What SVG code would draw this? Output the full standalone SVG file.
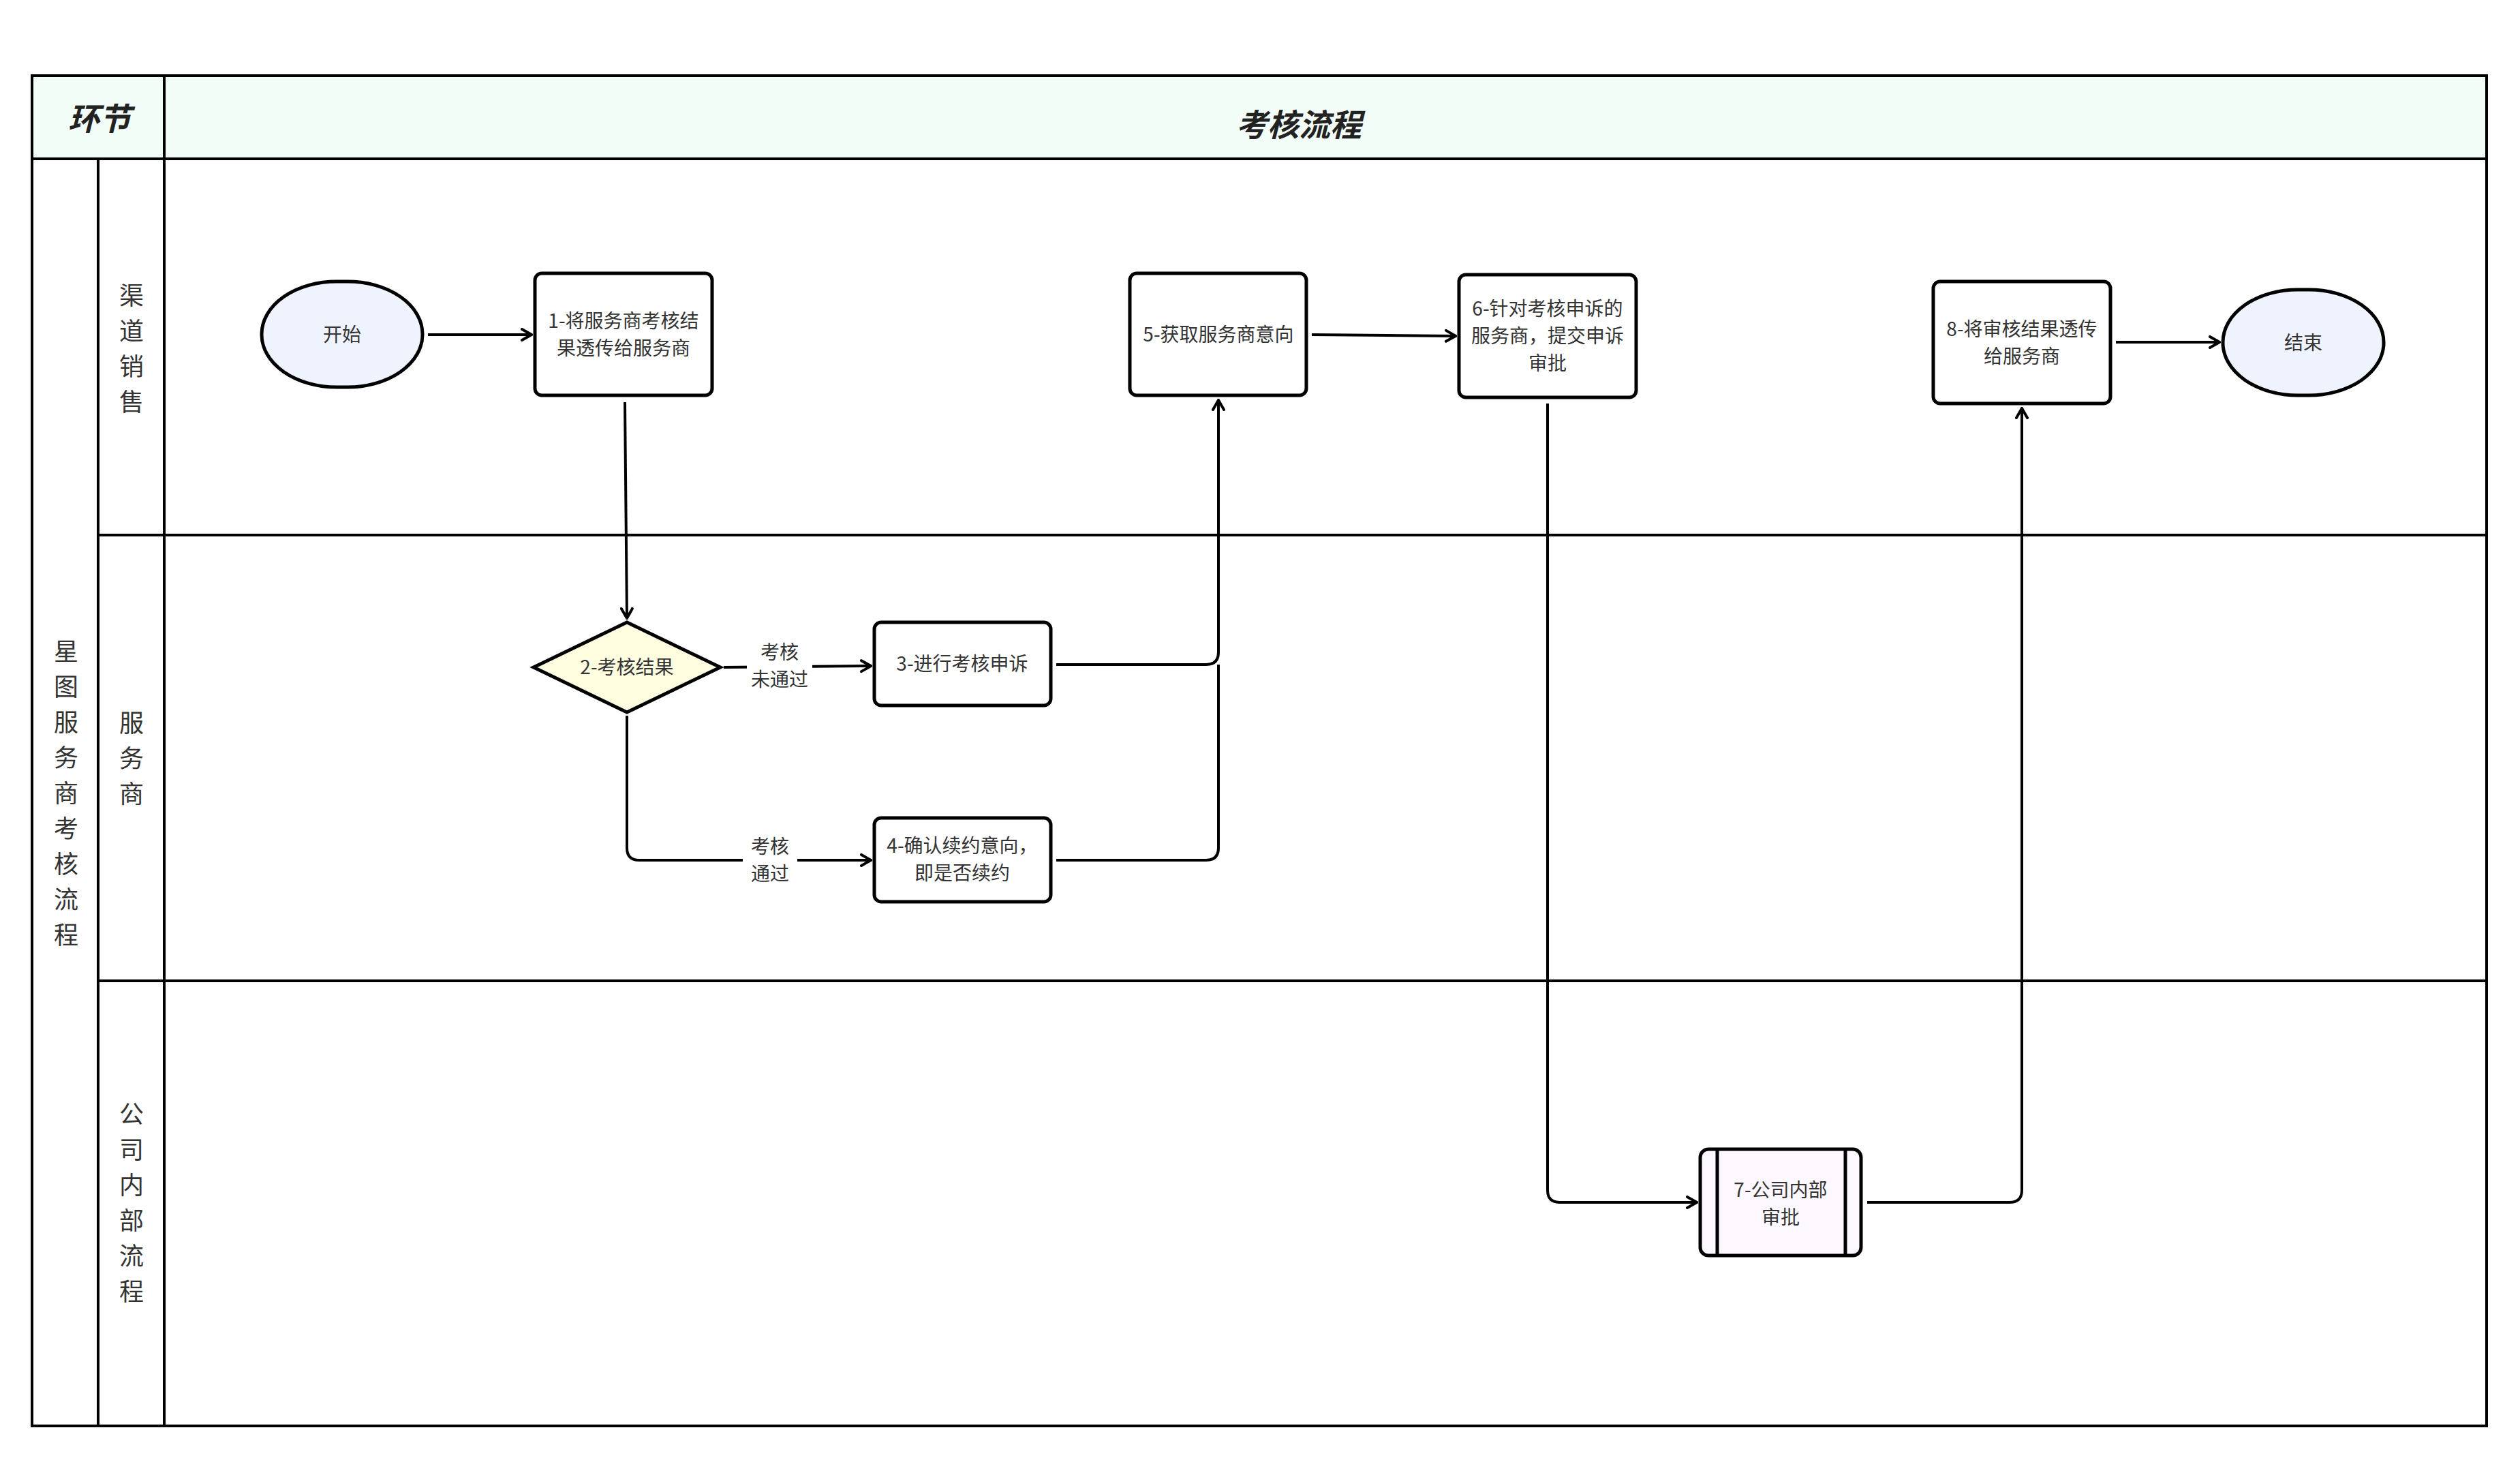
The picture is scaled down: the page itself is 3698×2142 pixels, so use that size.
<svg xmlns="http://www.w3.org/2000/svg" width="3698" height="2142" viewBox="0 0 3698 2142">
<defs>
<style>
.fr{fill:none;stroke:#000;stroke-width:4}
.n{stroke:#000;stroke-width:5}
.t{font-family:"Noto Sans CJK SC","Noto Sans",sans-serif;font-size:28px;fill:#333;text-anchor:middle}
.l{font-family:"Noto Sans CJK SC","Noto Sans",sans-serif;font-size:36px;fill:#333;text-anchor:middle}
.h{font-family:"Noto Sans CJK SC","Noto Sans",sans-serif;font-size:46px;font-weight:bold;font-style:italic;fill:#222;text-anchor:middle}
.c{fill:none;stroke:#000;stroke-width:4}
</style>
<marker id="a" viewBox="0 0 20 20" refX="18" refY="10" markerWidth="20" markerHeight="20" markerUnits="userSpaceOnUse" orient="auto"><path d="M4,2 L18,10 L4,18" fill="none" stroke="#000" stroke-width="4" stroke-linecap="round"/></marker>
</defs>
<rect width="3698" height="2142" fill="#fff"/>
<g id="frame">
<rect x="47" y="111" width="3602" height="122" fill="#f3fdf8"/>
<rect class="fr" x="47" y="111" width="3602" height="1981"/>
<line class="fr" x1="47" y1="233" x2="3649" y2="233"/>
<line class="fr" x1="241" y1="111" x2="241" y2="2092"/>
<line class="fr" x1="144" y1="233" x2="144" y2="2092"/>
<line class="fr" x1="144" y1="785" x2="3649" y2="785"/>
<line class="fr" x1="144" y1="1439" x2="3649" y2="1439"/>
<text class="h" x="146" y="191">环节</text>
<text class="h" x="1906" y="200">考核流程</text>
<text class="l" x="97"><tspan x="97" y="969">星</tspan><tspan x="97" y="1021">图</tspan><tspan x="97" y="1073">服</tspan><tspan x="97" y="1125">务</tspan><tspan x="97" y="1177">商</tspan><tspan x="97" y="1229">考</tspan><tspan x="97" y="1281">核</tspan><tspan x="97" y="1333">流</tspan><tspan x="97" y="1385">程</tspan></text>
<text class="l" x="193"><tspan x="193" y="447">渠</tspan><tspan x="193" y="499">道</tspan><tspan x="193" y="551">销</tspan><tspan x="193" y="603">售</tspan></text>
<text class="l" x="193"><tspan x="193" y="1074">服</tspan><tspan x="193" y="1126">务</tspan><tspan x="193" y="1178">商</tspan></text>
<text class="l" x="193"><tspan x="193" y="1648">公</tspan><tspan x="193" y="1700">司</tspan><tspan x="193" y="1752">内</tspan><tspan x="193" y="1804">部</tspan><tspan x="193" y="1856">流</tspan><tspan x="193" y="1908">程</tspan></text>
</g>
<g id="connectors">
<line class="c" x1="628" y1="491" x2="780" y2="491" marker-end="url(#a)"/>
<line class="c" x1="917" y1="590" x2="920" y2="907" marker-end="url(#a)"/>
<line class="c" x1="1062" y1="979" x2="1278" y2="977" marker-end="url(#a)"/>
<path class="c" d="M1550,975 H1770 Q1788,975 1788,957 V587" marker-end="url(#a)"/>
<path class="c" d="M920,1050 V1244 Q920,1262 938,1262 H1278" marker-end="url(#a)"/>
<path class="c" d="M1550,1262 H1770 Q1788,1262 1788,1244 V975"/>
<line class="c" x1="1925" y1="491" x2="2136" y2="493" marker-end="url(#a)"/>
<path class="c" d="M2271,592 V1746 Q2271,1764 2289,1764 H2490" marker-end="url(#a)"/>
<path class="c" d="M2740,1764 H2949 Q2967,1764 2967,1746 V599" marker-end="url(#a)"/>
<line class="c" x1="3105" y1="502" x2="3257" y2="502" marker-end="url(#a)"/>
<rect x="1096" y="935" width="96" height="84" fill="#fff"/>
<text class="t" x="1144" y="967">考核</text><text class="t" x="1144" y="1007">未通过</text>
<rect x="1090" y="1220" width="80" height="84" fill="#fff"/>
<text class="t" x="1130" y="1252">考核</text><text class="t" x="1130" y="1292">通过</text>
</g>
<g id="start"><rect class="n" x="384" y="413" width="236" height="155" rx="110" ry="77" fill="#eef3fe"/><text class="t" x="502" y="501">开始</text></g>
<g id="n1"><rect class="n" x="785" y="401" width="260" height="179" rx="10" fill="#fff"/><text class="t" x="915" y="481">1-将服务商考核结</text><text class="t" x="915" y="521">果透传给服务商</text></g>
<g id="n2"><polygon class="n" points="920,913 1057,979 920,1045 783,979" fill="#fffde0"/><text class="t" x="920" y="989">2-考核结果</text></g>
<g id="n3"><rect class="n" x="1283" y="913" width="259" height="122" rx="10" fill="#fff"/><text class="t" x="1412" y="984">3-进行考核申诉</text></g>
<g id="n4"><rect class="n" x="1283" y="1200" width="259" height="123" rx="10" fill="#fff"/><text class="t" x="1412" y="1251">4-确认续约意向，</text><text class="t" x="1412" y="1291">即是否续约</text></g>
<g id="n5"><rect class="n" x="1658" y="401" width="259" height="179" rx="10" fill="#fff"/><text class="t" x="1788" y="501">5-获取服务商意向</text></g>
<g id="n6"><rect class="n" x="2141" y="403" width="260" height="180" rx="10" fill="#fff"/><text class="t" x="2271" y="463">6-针对考核申诉的</text><text class="t" x="2271" y="503">服务商，提交申诉</text><text class="t" x="2271" y="543">审批</text></g>
<g id="n7"><rect class="n" x="2495" y="1686" width="236" height="156" rx="12" fill="#fdf8ff"/><line class="n" x1="2520" y1="1686" x2="2520" y2="1842"/><line class="n" x1="2708" y1="1686" x2="2708" y2="1842"/><text class="t" x="2613" y="1756">7-公司内部</text><text class="t" x="2613" y="1796">审批</text></g>
<g id="n8"><rect class="n" x="2837" y="413" width="260" height="179" rx="10" fill="#fff"/><text class="t" x="2967" y="493">8-将审核结果透传</text><text class="t" x="2967" y="533">给服务商</text></g>
<g id="end"><rect class="n" x="3262" y="425" width="236" height="155" rx="110" ry="77" fill="#eef3fe"/><text class="t" x="3380" y="513">结束</text></g>
</svg>
